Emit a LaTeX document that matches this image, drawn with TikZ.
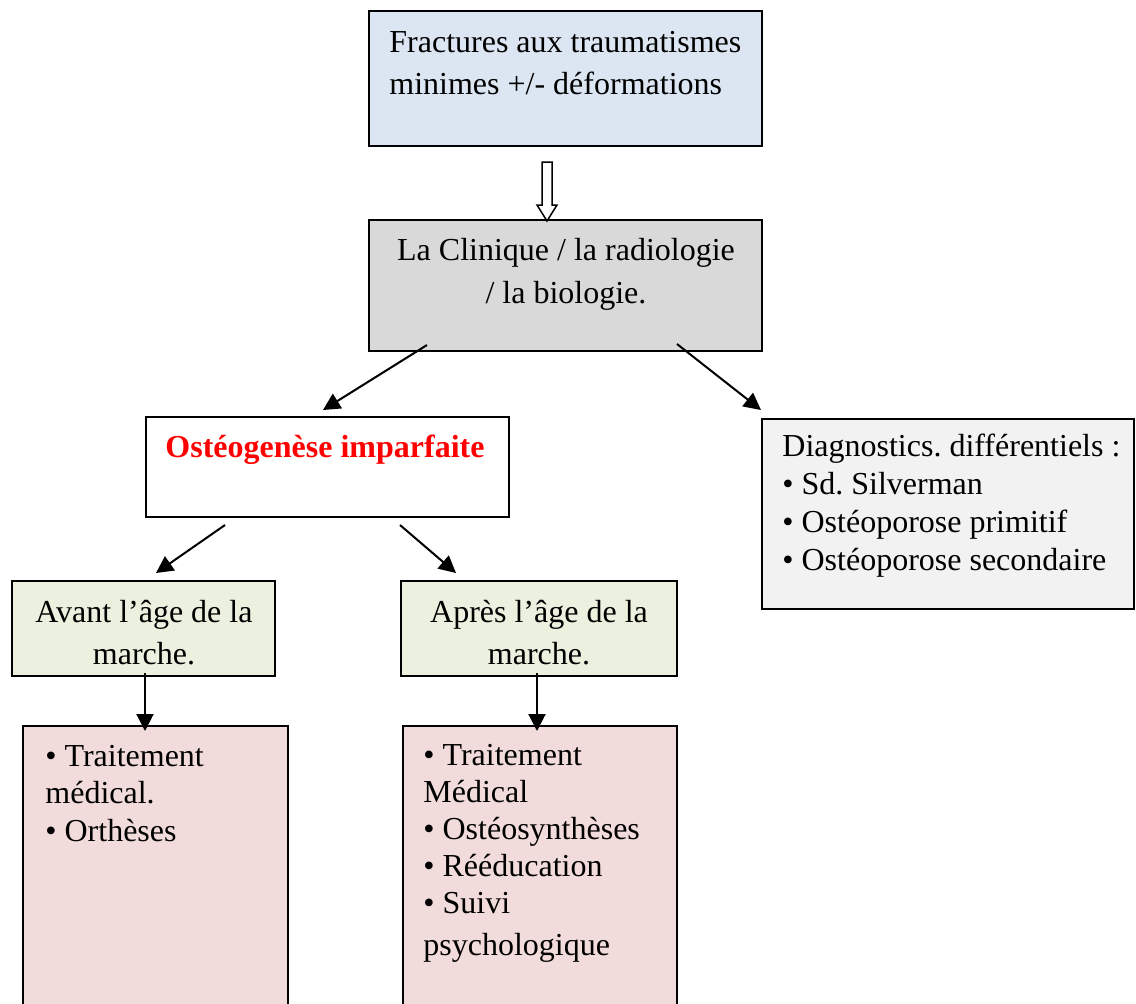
\documentclass[tikz,border=0pt]{standalone}
\usepackage{fontspec}
\setmainfont{Liberation Serif}
\usetikzlibrary{positioning,arrows.meta,calc,fit}
\frenchspacing

\definecolor{boxblue}{HTML}{DCE6F2}
\definecolor{boxgray}{HTML}{D9D9D9}
\definecolor{boxlight}{HTML}{F2F2F2}
\definecolor{boxgreen}{HTML}{EBF1DE}
\definecolor{boxpink}{HTML}{F2DCDB}

\begin{document}
\begin{tikzpicture}[
        x=0.5pt, y=-0.5pt,
        block/.style = {rectangle, draw, line width=1pt, inner sep=0pt},
        txt/.style = {inner sep=0pt, font=\fontsize{16}{21}\selectfont},
        line/.style = {draw, line width=1pt, -{Triangle[length=8.5pt,width=8.5pt]}}
    ]
    \clip (0,0) rectangle (1136,1003);

    % boxes
    \node [block, fill=boxblue, fit={(369,11) (762,146)}] (frac) {};
    \node [block, fill=boxgray, fit={(369,220) (762,351)}] (clin) {};
    \node [block, fill=white, fit={(146,417) (509,517)}] (osteo) {};
    \node [block, fill=boxlight, fit={(762,419) (1134,609)}] (diag) {};
    \node [block, fill=boxgreen, fit={(12,581) (275,676)}] (avant) {};
    \node [block, fill=boxgreen, fit={(401,581) (677,676)}] (apres) {};
    \node [block, fill=boxpink, fit={(23,726) (288,1030)}] (avtrt) {};
    \node [block, fill=boxpink, fit={(403,726) (677,1030)}] (aptrt) {};

    % texts (base = last line)
    \node [txt, anchor=base west, align=left] (frac_t) at (389,94)
        {Fractures aux traumatismes\\minimes +/- déformations};
    \node [txt, anchor=base, align=center, font=\fontsize{16}{21.5}\selectfont] (clin_t) at (566,303)
        {La Clinique / la radiologie\\/ la biologie.};
    \node [txt, anchor=base, text=red, font=\fontsize{16}{21}\selectfont\bfseries] (osteo_t) at (325,457)
        {Ostéogenèse imparfaite};
    \node [txt, anchor=base west, align=left, font=\fontsize{16}{18.85}\selectfont] (diag_t) at (782,570)
        {Diagnostics. différentiels :\\• Sd. Silverman\\• Ostéoporose primitif\\• Ostéoporose secondaire};
    \node [txt, anchor=base, align=center] (avant_t) at (144,664)
        {Avant l’âge de la\\marche.};
    \node [txt, anchor=base, align=center] (apres_t) at (539,664)
        {Après l’âge de la\\marche.};
    \node [txt, anchor=base west, align=left, font=\fontsize{16}{18.75}\selectfont] (avtrt_t) at (45,841)
        {• Traitement\\médical.\\• Orthèses};
    \node [txt, anchor=base west, align=left, font=\fontsize{16}{18.5}\selectfont] (aptrt_t) at (423,955)
        {• Traitement\\Médical\\• Ostéosynthèses\\• Rééducation\\• Suivi\\[2.5pt]psychologique};

    % hollow arrow
    \draw [line width=0.75pt, fill=white] ($(frac.south)+(-23.5,15)$) -- ++(10,0) -- ++(0,43)
        -- ++(5,0) -- ++(-10,16) -- ++(-10,-16) -- ++(5,0) -- cycle;

    \path [line] ($(clin.south west)+(59,-7)$) -- ($(osteo.north west)+(178,-6)$);
    \path [line] ($(clin.south east)+(-86,-8)$) -- ($(diag.north west)+(0,-8)$);
    \path [line] ($(osteo.south west)+(80,7)$) -- ($(avant.north west)+(145,-7)$);
    \path [line] ($(osteo.south west)+(255,7)$) -- ($(apres.north west)+(56,-7)$);
    \path [line] ($(avant.south west)+(134,-4)$) -- ($(avtrt.north west)+(123,6)$);
    \path [line] ($(apres.south west)+(137,-4)$) -- ($(aptrt.north west)+(135,6)$);

\end{tikzpicture}
\end{document}
